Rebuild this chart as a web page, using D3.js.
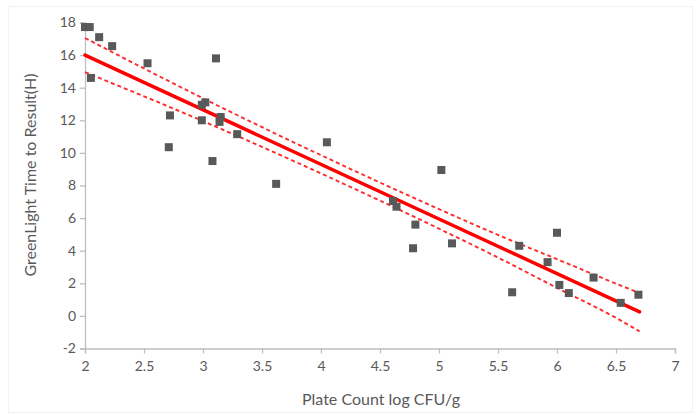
<!DOCTYPE html>
<html><head><meta charset="utf-8">
<script src="https://cdn.jsdelivr.net/npm/d3@7"></script>
<style>
html,body{margin:0;padding:0;background:#fff;}
svg{display:block;font-family:Lato,"Open Sans",sans-serif;}
</style></head>
<body><svg id="c" width="700" height="415"></svg>
<script>
// Data
const plateCount = [2.00, 2.04, 2.12, 2.23, 2.05, 2.53, 3.11, 2.72, 2.71, 2.99, 3.02, 2.99, 3.15, 3.14, 3.08, 3.29, 3.62,
  4.05, 5.02, 4.61, 4.64, 4.80, 4.78, 5.11, 5.68, 5.62, 6.00, 5.92, 6.02, 6.10, 6.31, 6.54, 6.69];
const timeToResult = [17.72, 17.72, 17.1, 16.55, 14.6, 15.5, 15.8, 12.3, 10.35, 12.95, 13.1, 12.0, 12.2, 11.9, 9.5, 11.15, 8.1,
  10.65, 8.95, 7.05, 6.7, 5.6, 4.15, 4.45, 4.3, 1.45, 5.1, 3.3, 1.9, 1.4, 2.35, 0.8, 1.3];
const fitX = [2.0, 6.7];
const fitY = [16.0, 0.25];
const bandX = [2.0, 2.5, 3.0, 3.5, 4.0, 4.5, 5.0, 5.5, 6.0, 6.5, 6.7];
const bandUpper = [17.05, 15.18, 13.35, 11.58, 9.86, 8.18, 6.55, 4.97, 3.48, 1.98, 1.4];
const bandLower = [14.95, 13.47, 11.95, 10.37, 8.74, 7.07, 5.35, 3.58, 1.72, -0.12, -0.95];
const xTicks = [2, 2.5, 3, 3.5, 4, 4.5, 5, 5.5, 6, 6.5, 7];
const yTicks = [-2, 0, 2, 4, 6, 8, 10, 12, 14, 16, 18];
const xTitle = "Plate Count log CFU/g";
const yTitle = "GreenLight Time to Result(H)";

const svg = d3.select("#c");
const x = d3.scaleLinear().domain([2, 7]).range([85, 675]);
const y = d3.scaleLinear().domain([-2, 18]).range([348.5, 22.5]);

// faint frame
svg.append("rect").attr("x", 8.5).attr("y", 6.5).attr("width", 684).attr("height", 406)
  .attr("fill", "none").attr("stroke", "#f2f2f2");

const axisCol = "#bfbfbf", textCol = "#595959";

const xa = svg.append("g").attr("transform", `translate(0,${y(-2)})`)
  .call(d3.axisBottom(x).tickValues(xTicks).tickSizeOuter(0).tickSize(5).tickFormat(d => String(d)));
const ya = svg.append("g").attr("transform", `translate(${x(2)},0)`)
  .call(d3.axisLeft(y).tickValues(yTicks).tickSizeOuter(0).tickSize(5).tickFormat(d => String(d)));
[xa, ya].forEach(g => {
  g.select(".domain").attr("stroke", axisCol).attr("stroke-width", 1.3);
  g.selectAll(".tick line").attr("stroke", axisCol).attr("stroke-width", 1.3);
  g.selectAll(".tick text").attr("fill", textCol).style("font-size", "14px").style("font-family", "Lato, sans-serif");
});
xa.selectAll(".tick text").attr("dy", "0.9em").attr("y", 10);
ya.selectAll(".tick text").attr("x", -9);

// band lines
const bandLine = d3.line().x((d, i) => x(bandX[i])).y(d => y(d)).curve(d3.curveMonotoneX);
[bandUpper, bandLower].forEach(arr => {
  svg.append("path").attr("d", bandLine(arr)).attr("fill", "none")
    .attr("stroke", "#ff2a2a").attr("stroke-width", 1.9).attr("stroke-dasharray", "4,3");
});
// fit line
svg.append("path").attr("d", d3.line().x((d, i) => x(fitX[i])).y(d => y(d))(fitY))
  .attr("fill", "none").attr("stroke", "#ff0000").attr("stroke-width", 3.5).attr("stroke-linecap", "round");

// points
svg.append("g").selectAll("rect").data(plateCount).join("rect")
  .attr("x", (d) => x(d) - 4).attr("y", (d, i) => y(timeToResult[i]) - 4)
  .attr("width", 8).attr("height", 8).attr("fill", "#595959");

// titles
svg.append("text").attr("x", 381).attr("y", 405).attr("text-anchor", "middle")
  .attr("fill", textCol).style("font-size", "16px").text(xTitle);
svg.append("text").attr("transform", "translate(36,175) rotate(-90)").attr("text-anchor", "middle")
  .attr("fill", textCol).style("font-size", "16px").text(yTitle);
</script></body></html>
